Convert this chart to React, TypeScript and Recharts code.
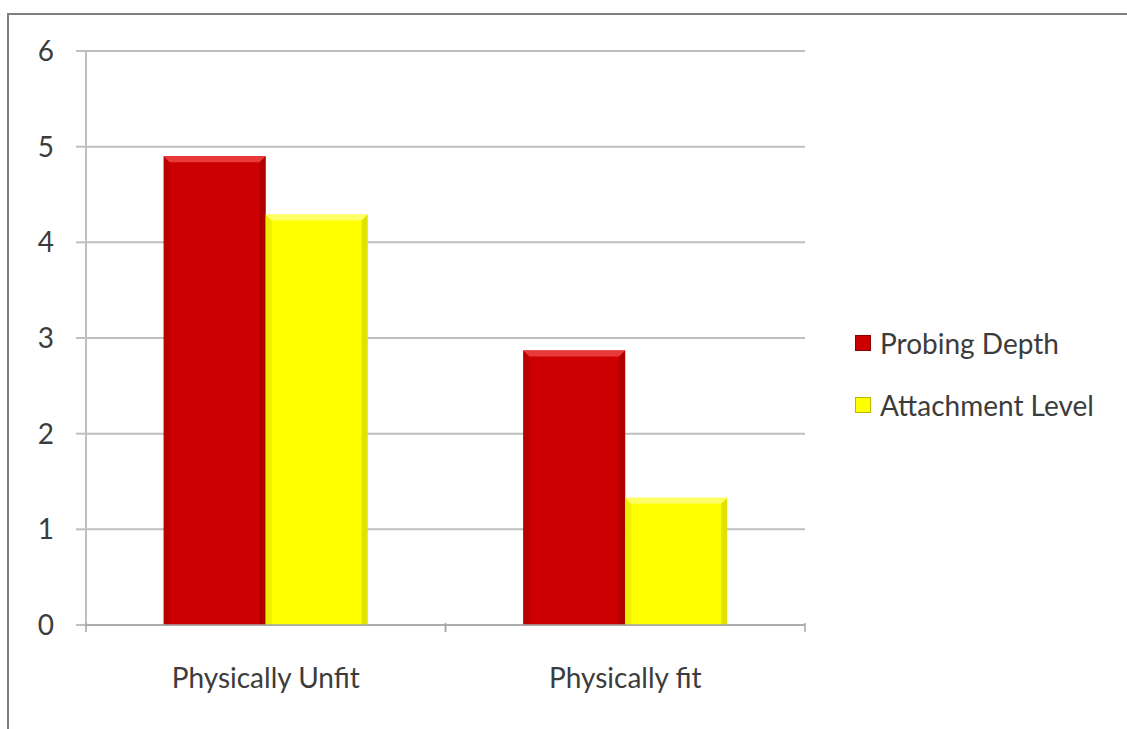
import React from 'react';
import { BarChart, Bar, XAxis, YAxis, CartesianGrid } from 'recharts';

const categories = ['Physically Unfit', 'Physically fit'];
const probingDepth = [4.9, 2.87];
const attachmentLevel = [4.29, 1.33];
const yTicks = [0, 1, 2, 3, 4, 5, 6];

const data = categories.map((name, i) => ({
  name,
  probing: probingDepth[i],
  attachment: attachmentLevel[i],
}));

const shades: Record<string, { light: string; dark: string }> = {
  '#CC0000': { light: '#E83A3A', dark: '#9A0000' },
  '#FFFF00': { light: '#FFFF66', dark: '#CFCF00' },
};

const BevelBar = (props: any) => {
  const { x, y, width, height, fill } = props;
  if (!height || height <= 0) return null;
  const s = shades[fill] || { light: fill, dark: fill };
  const b = 6;
  return (
    <g>
      <rect x={x} y={y} width={width} height={height} fill={fill} />
      <polygon points={`${x},${y} ${x + width},${y} ${x + width - b},${y + b} ${x + b},${y + b}`} fill={s.light} />
      <polygon points={`${x},${y} ${x + b},${y + b} ${x + b},${y + height} ${x},${y + height}`} fill={s.dark} opacity={0.35} />
      <polygon points={`${x + width},${y} ${x + width - b},${y + b} ${x + width - b},${y + height} ${x + width},${y + height}`} fill={s.dark} opacity={0.6} />
    </g>
  );
};

const XTick = (props: any) => {
  const { x, y, payload } = props;
  const half = payload.offset || 0;
  return (
    <g>
      <line x1={x - half} y1={y - 10} x2={x - half} y2={y - 1} stroke="#A6A6A6" strokeWidth={1.5} />
      <line x1={x + half} y1={y - 10} x2={x + half} y2={y - 1} stroke="#A6A6A6" strokeWidth={1.5} />
      <text x={x} y={y + 55} textAnchor="middle" fill="#3C3C3C" fontSize={28}>
        {payload.value}
      </text>
    </g>
  );
};

const legendItems = [
  { label: 'Probing Depth', color: '#CC0000', edge: '#8E0000' },
  { label: 'Attachment Level', color: '#FFFF00', edge: '#B8B800' },
];

export default function App() {
  return (
    <div style={{ position: 'absolute', left: 0, top: 0, width: 1127, height: 729, background: '#fff', fontFamily: 'Lato, sans-serif', overflow: 'hidden' }}>
      <div style={{ position: 'absolute', left: 7, top: 13, width: 1200, height: 800, border: '2px solid #7F7F7F', boxSizing: 'border-box' }} />
      <div style={{ position: 'absolute', left: 0, top: 0 }}>
        <BarChart
          width={1127}
          height={729}
          data={data}
          margin={{ top: 51, right: 322, bottom: 58, left: 0 }}
          barCategoryGap="21.6%"
          barGap={0}
        >
          <CartesianGrid vertical={false} stroke="#BFBFBF" strokeWidth={2} />
          <XAxis
            dataKey="name"
            axisLine={{ stroke: '#A6A6A6', strokeWidth: 1.5 }}
            tickLine={false}
            tick={<XTick />}
            height={46}
            interval={0}
          />
          <YAxis
            domain={[0, 6]}
            ticks={yTicks}
            width={86}
            axisLine={{ stroke: '#BFBFBF', strokeWidth: 2 }}
            tickLine={{ stroke: '#BFBFBF', strokeWidth: 2 }}
            tickSize={10}
            tickMargin={22}
            tick={{ fill: '#3C3C3C', fontSize: 28 }}
          />
          <Bar dataKey="probing" name="Probing Depth" fill="#CC0000" shape={<BevelBar />} isAnimationActive={false} />
          <Bar dataKey="attachment" name="Attachment Level" fill="#FFFF00" shape={<BevelBar />} isAnimationActive={false} />
        </BarChart>
      </div>
      <div style={{ position: 'absolute', left: 855, top: 326, fontSize: 28, color: '#3C3C3C' }}>
        {legendItems.map((it) => (
          <div key={it.label} style={{ display: 'flex', alignItems: 'center', height: 34, marginBottom: 28 }}>
            <span
              style={{
                width: 14,
                height: 14,
                background: it.color,
                border: `1px solid ${it.edge}`,
                marginRight: 9,
                display: 'inline-block',
              }}
            />
            <span>{it.label}</span>
          </div>
        ))}
      </div>
    </div>
  );
}
